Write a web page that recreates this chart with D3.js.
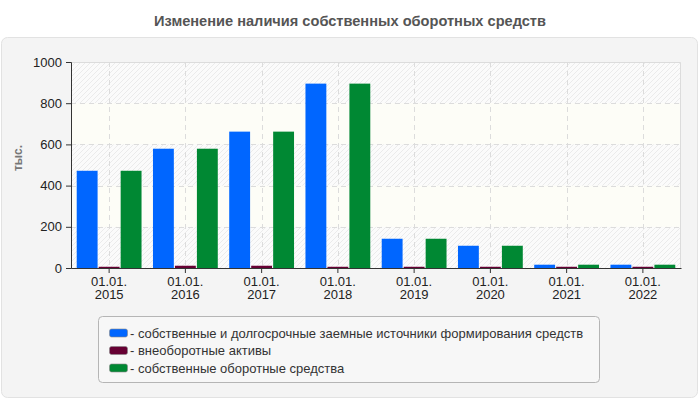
<!DOCTYPE html>
<html>
<head>
<meta charset="utf-8">
<script src="https://cdn.jsdelivr.net/npm/d3@7"></script>
<style>
  body { margin: 0; background: #fff; }
  svg { display: block; font-family: 'Liberation Sans', Arial, sans-serif; }
</style>
</head>
<body>
<svg id="area" width="700" height="400"></svg>
<script>
const title = 'Изменение наличия собственных оборотных средств';
const years = ['2015', '2016', '2017', '2018', '2019', '2020', '2021', '2022'];
const seriesNames = [
  'собственные и долгосрочные заемные источники формирования средств',
  'внеоборотные активы',
  'собственные оборотные средства',
];
const ownLongTerm = [472, 579, 662, 895, 142, 108, 16, 16];
const nonCurrent = [6, 11, 11, 6, 6, 6, 6, 6];
const ownWorking = [472, 579, 662, 895, 142, 108, 16, 16];
const yTicks = [0, 200, 400, 600, 800, 1000];
const colors = ['#0066ff', '#660033', '#008833'];

const series = [ownLongTerm, nonCurrent, ownWorking];
const svg = d3.select('#area');
const margin = { top: 62, left: 71, right: 19, bottom: 132 };
const width = 700 - margin.left - margin.right;
const height = 400 - margin.top - margin.bottom;

// panel
svg.append('rect')
  .attr('x', 1.5).attr('y', 37.5)
  .attr('width', 696).attr('height', 360)
  .attr('rx', 6)
  .attr('fill', '#f4f4f4')
  .attr('stroke', '#e2e2e2');

svg.append('text')
  .attr('x', 350).attr('y', 26)
  .attr('text-anchor', 'middle')
  .attr('textLength', 392)
  .attr('lengthAdjust', 'spacingAndGlyphs')
  .style('font-weight', 'bold')
  .style('font-size', '15px')
  .attr('fill', '#555')
  .text(title);

const defs = svg.append('defs');
const pat = defs.append('pattern')
  .attr('id', 'hatch')
  .attr('patternUnits', 'userSpaceOnUse')
  .attr('width', 5).attr('height', 5);
pat.append('rect').attr('width', 5).attr('height', 5).attr('fill', '#fbfbfb');
pat.append('path')
  .attr('d', 'M0,5L5,0M-1,1L1,-1M4,6L6,4')
  .attr('stroke', '#ebebeb')
  .attr('stroke-width', 1);

const x0 = d3.scaleBand()
  .domain(years)
  .range([0, width])
  .paddingInner(0.15)
  .paddingOuter(0.075);
const x1 = d3.scaleBand()
  .domain(d3.range(series.length))
  .range([0, x0.bandwidth()])
  .paddingInner(0.05);
const y = d3.scaleLinear().domain([0, 1000]).range([height, 0]);

const g = svg.append('g').attr('transform', `translate(${margin.left},${margin.top})`);

g.append('rect')
  .attr('width', width).attr('height', height)
  .attr('fill', 'url(#hatch)');

// plain bands
[[600, 800], [200, 400]].forEach(([a, b]) => {
  g.append('rect')
    .attr('x', 0).attr('y', y(b))
    .attr('width', width).attr('height', y(a) - y(b))
    .attr('fill', '#fdfdf7');
});

g.append('path')
  .attr('d', `M0,0.5H${width - 0.5}V${height}`)
  .attr('fill', 'none')
  .attr('stroke', '#dcdcdc');

g.selectAll('.hgrid')
  .data(yTicks.filter((d) => d > 0 && d < 1000))
  .enter().append('line')
  .attr('x1', 0).attr('x2', width)
  .attr('y1', (d) => Math.round(y(d)) + 0.5)
  .attr('y2', (d) => Math.round(y(d)) + 0.5)
  .attr('stroke', '#dcdcdc')
  .attr('stroke-dasharray', '5,4');

g.selectAll('.vgrid')
  .data(years)
  .enter().append('line')
  .attr('x1', (d) => Math.round(x0(d) + x0.bandwidth() / 2) + 0.5)
  .attr('x2', (d) => Math.round(x0(d) + x0.bandwidth() / 2) + 0.5)
  .attr('y1', 0).attr('y2', height)
  .attr('stroke', '#dcdcdc')
  .attr('stroke-dasharray', '5,4');

const groups = g.selectAll('.grp')
  .data(years)
  .enter().append('g')
  .attr('transform', (d) => `translate(${x0(d)},0)`);

groups.selectAll('rect')
  .data((d, i) => series.map((s, k) => ({ k, v: s[i] })))
  .enter().append('rect')
  .attr('x', (d) => x1(d.k))
  .attr('y', (d) => y(d.v))
  .attr('width', x1.bandwidth())
  .attr('height', (d) => height - y(d.v))
  .attr('fill', (d) => colors[d.k]);

const yAxis = d3.axisLeft(y).tickValues(yTicks).tickFormat(d3.format('d'))
  .tickSize(5).tickPadding(4);
const yg = g.append('g').call(yAxis);
yg.select('.domain').attr('stroke', '#333');
yg.selectAll('.tick line').attr('stroke', '#333');
yg.selectAll('text').style('font-size', '13px').attr('fill', '#222');

const xAxis = d3.axisBottom(x0).tickSize(5).tickSizeOuter(0).tickFormat(() => '');
const xg = g.append('g').attr('transform', `translate(0,${height})`).call(xAxis);
xg.select('.domain').attr('stroke', '#333');
xg.selectAll('.tick line').attr('stroke', '#333');
xg.selectAll('.tick text').remove();
xg.selectAll('.tick').append('text')
  .attr('fill', '#222')
  .attr('text-anchor', 'middle')
  .attr('y', 18)
  .style('font-size', '13px')
  .text('01.01.');
xg.selectAll('.tick').append('text')
  .attr('fill', '#222')
  .attr('text-anchor', 'middle')
  .attr('y', 31)
  .style('font-size', '13px')
  .text((d) => d);

svg.append('text')
  .attr('transform', 'translate(22,158) rotate(-90)')
  .attr('text-anchor', 'middle')
  .style('font-size', '12px')
  .style('font-weight', 'bold')
  .attr('fill', '#777')
  .text('тыс.');

// legend
svg.append('rect')
  .attr('x', 98.5).attr('y', 316.5)
  .attr('width', 501).attr('height', 66)
  .attr('rx', 4)
  .attr('fill', '#f7f7f7')
  .attr('stroke', '#b5b5b5');

const leg = svg.selectAll('.leg')
  .data(seriesNames)
  .enter().append('g')
  .attr('transform', (d, i) => `translate(109,${333 + i * 17.5})`);
leg.append('rect')
  .attr('x', 0.5).attr('y', -4)
  .attr('width', 18).attr('height', 8)
  .attr('rx', 2)
  .attr('fill', (d, i) => colors[i])
  .attr('stroke', '#888')
  .attr('stroke-width', 0.6);
leg.append('text')
  .attr('x', 21).attr('y', 4.5)
  .style('font-size', '13px')
  .attr('fill', '#333')
  .text((d) => `- ${d}`);
</script>
</body>
</html>
